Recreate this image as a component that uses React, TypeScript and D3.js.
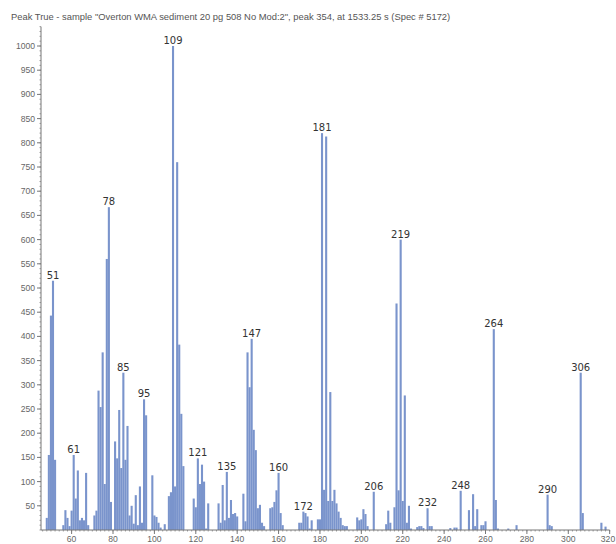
import { useEffect, useRef } from 'react';
import * as d3 from 'd3';

const title = 'Peak True - sample "Overton WMA sediment 20 pg 508 No Mod:2", peak 354, at 1533.25 s (Spec # 5172)';

// mass, intensity pairs
const peaks: [number, number][] = [
  [48, 25], [49, 155], [50, 443], [51, 515], [52, 145],
  [56, 10], [57, 41], [58, 25], [59, 8], [60, 40], [61, 155], [62, 65], [63, 123], [64, 20], [65, 25], [66, 20], [67, 118], [68, 10],
  [71, 30], [72, 40], [73, 288], [74, 254], [75, 367], [76, 95], [77, 560], [78, 667], [79, 58],
  [81, 183], [82, 148], [83, 248], [84, 128], [85, 325], [86, 145], [87, 215], [88, 30], [89, 50], [90, 13], [91, 72], [92, 10], [93, 90], [94, 15], [95, 270], [96, 237],
  [99, 113], [100, 30], [101, 27], [102, 15], [103, 5], [105, 12],
  [107, 70], [108, 78], [109, 1000], [110, 90], [111, 760], [112, 383], [113, 240], [114, 132],
  [119, 65], [120, 47], [121, 148], [122, 95], [123, 135], [124, 100], [125, 3], [126, 55],
  [131, 55], [132, 15], [133, 93], [134, 20], [135, 120], [136, 25], [137, 62], [138, 33], [139, 35], [140, 28],
  [143, 75], [144, 18], [145, 367], [146, 295], [147, 395], [148, 207], [149, 165], [150, 45], [151, 52], [152, 15], [153, 8],
  [156, 45], [157, 47], [158, 58], [159, 82], [160, 118], [161, 35], [162, 10],
  [170, 15], [171, 15], [172, 38], [173, 35], [174, 28], [175, 3], [176, 20],
  [179, 22], [180, 22], [181, 820], [182, 83], [183, 813], [184, 60], [185, 285], [186, 60], [187, 83], [188, 55], [189, 38], [190, 25], [191, 10], [192, 8], [193, 8],
  [198, 26], [199, 20], [200, 22], [201, 43], [202, 33], [203, 8], [206, 79],
  [212, 12], [213, 40], [214, 15], [216, 47], [217, 468], [218, 82], [219, 600], [220, 60], [221, 278], [222, 15], [223, 50], [224, 3],
  [227, 6], [228, 8], [229, 8], [230, 4], [232, 45], [233, 8], [234, 8],
  [243, 4], [245, 5], [246, 5], [248, 81], [252, 41], [254, 74], [255, 8], [256, 43], [258, 10], [259, 10], [260, 18],
  [264, 415], [265, 62], [266, 3], [271, 3], [275, 10],
  [290, 73], [291, 10], [292, 8], [306, 325], [307, 35], [316, 15], [318, 7],
];

const labelled = [51, 61, 78, 85, 95, 109, 121, 135, 147, 160, 172, 181, 206, 219, 232, 248, 264, 290, 306];
const xTicks = d3.range(60, 321, 20);
const xMinor = d3.range(46, 321, 2);
const yTicks = d3.range(50, 1001, 50);
const yMinor = d3.range(0, 1041, 10);

const App = () => {
  const svgRef = useRef<SVGSVGElement>(null);

  useEffect(() => {
    if (!svgRef.current) return;
    const svg = d3.select(svgRef.current);
    svg.selectAll('*').remove();

    const x = d3.scaleLinear().domain([51, 306]).range([53, 580.7]);
    const y = d3.scaleLinear().domain([0, 1000]).range([530, 46]);
    const axisColor = '#777';
    const font = '"Liberation Sans", sans-serif';

    svg.append('text')
      .attr('x', 11)
      .attr('y', 20)
      .attr('font-family', font)
      .attr('font-size', 9.4)
      .attr('fill', '#555')
      .text(title);

    svg.append('g')
      .selectAll('rect')
      .data(peaks)
      .join('rect')
      .attr('x', d => x(d[0]) - 1.05)
      .attr('y', d => y(d[1]))
      .attr('width', 2.1)
      .attr('height', d => y(0) - y(d[1]))
      .attr('fill', '#7a94cc');

    const yAxis = svg.append('g').attr('transform', `translate(41,0)`);
    yAxis.append('line')
      .attr('y1', y(1040)).attr('y2', y(0))
      .attr('stroke', axisColor).attr('stroke-width', 1);
    yAxis.selectAll('line.minor')
      .data(yMinor)
      .join('line')
      .attr('class', 'minor')
      .attr('x1', -1.5).attr('x2', 0)
      .attr('y1', d => y(d)).attr('y2', d => y(d))
      .attr('stroke', axisColor).attr('stroke-width', 0.7);
    const yMajor = yAxis.selectAll('g.tick').data(yTicks).join('g').attr('class', 'tick');
    yMajor.append('line')
      .attr('x1', -4).attr('x2', 0)
      .attr('y1', d => y(d)).attr('y2', d => y(d))
      .attr('stroke', axisColor);
    yMajor.append('text')
      .attr('x', -6)
      .attr('y', d => y(d) + 3)
      .attr('text-anchor', 'end')
      .attr('font-family', font)
      .attr('font-size', 8.6)
      .attr('fill', '#666')
      .text(d => d);

    const xAxis = svg.append('g');
    xAxis.append('line')
      .attr('x1', 41).attr('x2', x(320))
      .attr('y1', y(0)).attr('y2', y(0))
      .attr('stroke', axisColor);
    xAxis.selectAll('line.minor')
      .data(xMinor)
      .join('line')
      .attr('class', 'minor')
      .attr('x1', d => x(d)).attr('x2', d => x(d))
      .attr('y1', y(0)).attr('y2', y(0) + 1.5)
      .attr('stroke', axisColor).attr('stroke-width', 0.7);
    const xMajor = xAxis.selectAll('g.tick').data(xTicks).join('g').attr('class', 'tick');
    xMajor.append('line')
      .attr('x1', d => x(d)).attr('x2', d => x(d))
      .attr('y1', y(0)).attr('y2', y(0) + 4)
      .attr('stroke', axisColor);
    xMajor.append('text')
      .attr('x', d => Math.min(x(d), 608))
      .attr('y', 542)
      .attr('text-anchor', 'middle')
      .attr('font-family', font)
      .attr('font-size', 8.6)
      .attr('fill', '#666')
      .text(d => d);

    svg.append('g')
      .selectAll('text')
      .data(peaks.filter(d => labelled.includes(d[0])))
      .join('text')
      .attr('x', d => x(d[0]))
      .attr('y', d => y(d[1]) - 2)
      .attr('text-anchor', 'middle')
      .attr('font-family', '"DejaVu Sans", sans-serif')
      .attr('font-size', 10)
      .attr('fill', '#333')
      .text(d => d[0]);
  }, []);

  return <svg ref={svgRef} width={616} height={544} style={{ position: 'absolute', left: 0, top: 0 }} />;
};

export default App;
